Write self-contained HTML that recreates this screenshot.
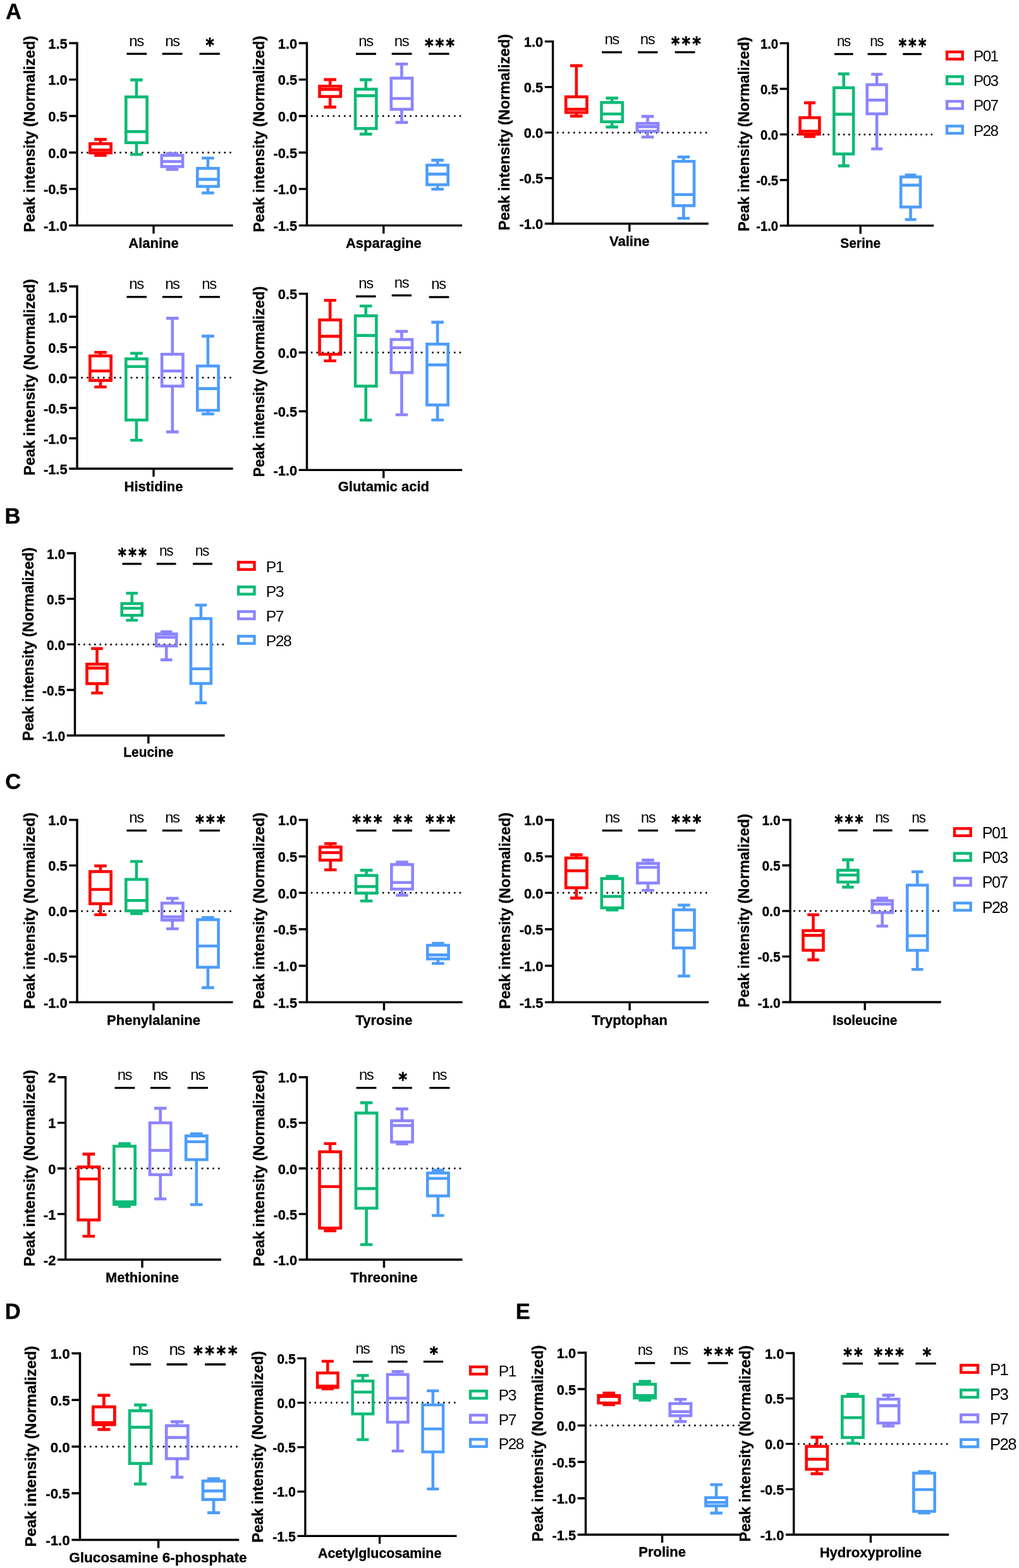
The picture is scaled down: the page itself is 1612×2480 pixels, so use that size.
<!DOCTYPE html>
<html lang="en">
<head>
<meta charset="utf-8">
<title>Amino acid peak intensity box plots</title>
<style>
html,body{margin:0;padding:0;background:#fff;}
body{width:1612px;height:2480px;overflow:hidden;}
svg{display:block;font-family:"Liberation Sans",sans-serif;fill:#000;}
svg text{fill:#000;}
svg text.b{font-weight:bold;stroke:#000;stroke-width:0.35px;stroke-linejoin:round;}
svg text.st{font-family:"DejaVu Sans","Liberation Sans",sans-serif;}
</style>
</head>
<body>
<svg width="1612" height="2480" viewBox="0 0 1612 2480">
<rect x="0" y="0" width="1612" height="2480" fill="#fff" stroke="none"/>
<g>
<line x1="129.6" y1="241.24" x2="367.5" y2="241.24" stroke="#000" stroke-width="3" stroke-linecap="round" stroke-dasharray="0 8.7"/>
<path d="M159 220.4V227.3M159 241.8V245.6M149.2 220.4H168.8M149.2 245.6H168.8M142.35 237.2H175.65" stroke="#FF0000" stroke-width="4.6" fill="none"/>
<rect x="142.35" y="227.3" width="33.3" height="14.5" stroke="#FF0000" stroke-width="4.6" fill="none"/>
<path d="M215.9 126.4V153.3M215.9 225.7V244.2M206.1 126.4H225.7M206.1 244.2H225.7M199.25 208.1H232.55" stroke="#0CBA76" stroke-width="4.6" fill="none"/>
<rect x="199.25" y="153.3" width="33.3" height="72.4" stroke="#0CBA76" stroke-width="4.6" fill="none"/>
<path d="M272.4 242.7V245.7M272.4 263.5V268M262.6 242.7H282.2M262.6 268H282.2M255.75 255.5H289.05" stroke="#8C84FF" stroke-width="4.6" fill="none"/>
<rect x="255.75" y="245.7" width="33.3" height="17.8" stroke="#8C84FF" stroke-width="4.6" fill="none"/>
<path d="M328.9 250V266.3M328.9 294.8V305.1M319.1 250H338.7M319.1 305.1H338.7M312.25 283.6H345.55" stroke="#4D9DFA" stroke-width="4.6" fill="none"/>
<rect x="312.25" y="266.3" width="33.3" height="28.5" stroke="#4D9DFA" stroke-width="4.6" fill="none"/>
<path d="M122 66.5V356.6H368.5" stroke="#000" stroke-width="3.4" fill="none" stroke-linejoin="miter"/>
<path d="M109.2 68.2H122M109.2 125.88H122M109.2 183.56H122M109.2 241.24H122M109.2 298.92H122M109.2 356.6H122M243 356.6V369.4" stroke="#000" stroke-width="3.4" fill="none"/>
<text transform="translate(106.6,76.7) scale(0.98,1)" font-size="22.3" text-anchor="end" class="b">1.5</text>
<text transform="translate(106.6,134.38) scale(0.98,1)" font-size="22.3" text-anchor="end" class="b">1.0</text>
<text transform="translate(106.6,192.06) scale(0.98,1)" font-size="22.3" text-anchor="end" class="b">0.5</text>
<text transform="translate(106.6,249.74) scale(0.98,1)" font-size="22.3" text-anchor="end" class="b">0.0</text>
<text transform="translate(106.6,307.42) scale(0.98,1)" font-size="22.3" text-anchor="end" class="b">-0.5</text>
<text transform="translate(106.6,365.1) scale(0.98,1)" font-size="22.3" text-anchor="end" class="b">-1.0</text>
<text transform="translate(54.8,211.9) rotate(-90)" font-size="23.8" text-anchor="middle" class="b">Peak intensity (Normalized)</text>
<text transform="translate(243,392.2)" font-size="22" text-anchor="middle" class="b">Alanine</text>
<line x1="200.4" y1="85.1" x2="232.2" y2="85.1" stroke="#000" stroke-width="3.3"/>
<text transform="translate(204.35,72.5)" font-size="23.9" text-anchor="start" letter-spacing="-1.45">ns</text>
<line x1="256.6" y1="85.1" x2="288.5" y2="85.1" stroke="#000" stroke-width="3.3"/>
<text transform="translate(261.15,72.5)" font-size="23.9" text-anchor="start" letter-spacing="-1.45">ns</text>
<line x1="315.5" y1="85.1" x2="347.8" y2="85.1" stroke="#000" stroke-width="3.3"/>
<text transform="translate(325.47,81.45) scale(0.95,1)" font-size="27.5" text-anchor="start" class="st" letter-spacing="3.93" stroke="#000" stroke-width="1.5">*</text>
</g>
<g>
<line x1="493.1" y1="183.56" x2="730.1" y2="183.56" stroke="#000" stroke-width="3" stroke-linecap="round" stroke-dasharray="0 8.7"/>
<path d="M522.2 125.9V136.3M522.2 152.6V169.4M512.4 125.9H532M512.4 169.4H532M505.55 141.4H538.85" stroke="#FF0000" stroke-width="4.6" fill="none"/>
<rect x="505.55" y="136.3" width="33.3" height="16.3" stroke="#FF0000" stroke-width="4.6" fill="none"/>
<path d="M578.75 126.1V141.1M578.75 203.3V212.1M568.95 126.1H588.55M568.95 212.1H588.55M562.1 151.4H595.4" stroke="#0CBA76" stroke-width="4.6" fill="none"/>
<rect x="562.1" y="141.1" width="33.3" height="62.2" stroke="#0CBA76" stroke-width="4.6" fill="none"/>
<path d="M635.45 101.3V123.6M635.45 172.9V193.6M625.65 101.3H645.25M625.65 193.6H645.25M618.8 155.8H652.1" stroke="#8C84FF" stroke-width="4.6" fill="none"/>
<rect x="618.8" y="123.6" width="33.3" height="49.3" stroke="#8C84FF" stroke-width="4.6" fill="none"/>
<path d="M692.1 253.4V261.2M692.1 292.2V299.2M682.3 253.4H701.9M682.3 299.2H701.9M675.45 275.4H708.75" stroke="#4D9DFA" stroke-width="4.6" fill="none"/>
<rect x="675.45" y="261.2" width="33.3" height="31" stroke="#4D9DFA" stroke-width="4.6" fill="none"/>
<path d="M485.5 66.5V356.6H731.1" stroke="#000" stroke-width="3.4" fill="none" stroke-linejoin="miter"/>
<path d="M472.7 68.2H485.5M472.7 125.88H485.5M472.7 183.56H485.5M472.7 241.24H485.5M472.7 298.92H485.5M472.7 356.6H485.5M606.8 356.6V369.4" stroke="#000" stroke-width="3.4" fill="none"/>
<text transform="translate(470.1,76.7) scale(0.98,1)" font-size="22.3" text-anchor="end" class="b">1.0</text>
<text transform="translate(470.1,134.38) scale(0.98,1)" font-size="22.3" text-anchor="end" class="b">0.5</text>
<text transform="translate(470.1,192.06) scale(0.98,1)" font-size="22.3" text-anchor="end" class="b">0.0</text>
<text transform="translate(470.1,249.74) scale(0.98,1)" font-size="22.3" text-anchor="end" class="b">-0.5</text>
<text transform="translate(470.1,307.42) scale(0.98,1)" font-size="22.3" text-anchor="end" class="b">-1.0</text>
<text transform="translate(470.1,365.1) scale(0.98,1)" font-size="22.3" text-anchor="end" class="b">-1.5</text>
<text transform="translate(418,211.9) rotate(-90)" font-size="23.8" text-anchor="middle" class="b">Peak intensity (Normalized)</text>
<text transform="translate(606.8,392.2)" font-size="22" text-anchor="middle" class="b">Asparagine</text>
<line x1="563" y1="85.2" x2="595" y2="85.2" stroke="#000" stroke-width="3.3"/>
<text transform="translate(567.35,72.6)" font-size="23.9" text-anchor="start" letter-spacing="-1.45">ns</text>
<line x1="619.7" y1="85.2" x2="651.5" y2="85.2" stroke="#000" stroke-width="3.3"/>
<text transform="translate(623.85,72.6)" font-size="23.9" text-anchor="start" letter-spacing="-1.45">ns</text>
<line x1="678.3" y1="85.2" x2="710.6" y2="85.2" stroke="#000" stroke-width="3.3"/>
<text transform="translate(672.17,81.55) scale(0.95,1)" font-size="27.5" text-anchor="start" class="st" letter-spacing="3.93" stroke="#000" stroke-width="1.5">***</text>
</g>
<g>
<line x1="882.2" y1="209.65" x2="1119.7" y2="209.65" stroke="#000" stroke-width="3" stroke-linecap="round" stroke-dasharray="0 8.7"/>
<path d="M911.8 103.9V153.1M911.8 177.9V183.6M902 103.9H921.6M902 183.6H921.6M895.15 172.7H928.45" stroke="#FF0000" stroke-width="4.6" fill="none"/>
<rect x="895.15" y="153.1" width="33.3" height="24.8" stroke="#FF0000" stroke-width="4.6" fill="none"/>
<path d="M968.1 155.1V162.1M968.1 192.6V200.9M958.3 155.1H977.9M958.3 200.9H977.9M951.45 180.2H984.75" stroke="#0CBA76" stroke-width="4.6" fill="none"/>
<rect x="951.45" y="162.1" width="33.3" height="30.5" stroke="#0CBA76" stroke-width="4.6" fill="none"/>
<path d="M1024.5 184.1V195.2M1024.5 207.6V216.7M1014.7 184.1H1034.3M1014.7 216.7H1034.3M1007.85 200.4H1041.15" stroke="#8C84FF" stroke-width="4.6" fill="none"/>
<rect x="1007.85" y="195.2" width="33.3" height="12.4" stroke="#8C84FF" stroke-width="4.6" fill="none"/>
<path d="M1081.4 248.2V255.2M1081.4 325.3V345.2M1071.6 248.2H1091.2M1071.6 345.2H1091.2M1064.75 307.7H1098.05" stroke="#4D9DFA" stroke-width="4.6" fill="none"/>
<rect x="1064.75" y="255.2" width="33.3" height="70.1" stroke="#4D9DFA" stroke-width="4.6" fill="none"/>
<path d="M874.6 63.9V353.7H1120.7" stroke="#000" stroke-width="3.4" fill="none" stroke-linejoin="miter"/>
<path d="M861.8 65.6H874.6M861.8 137.62H874.6M861.8 209.65H874.6M861.8 281.68H874.6M861.8 353.7H874.6M995.8 353.7V366.5" stroke="#000" stroke-width="3.4" fill="none"/>
<text transform="translate(859.2,74.1) scale(0.98,1)" font-size="22.3" text-anchor="end" class="b">1.0</text>
<text transform="translate(859.2,146.12) scale(0.98,1)" font-size="22.3" text-anchor="end" class="b">0.5</text>
<text transform="translate(859.2,218.15) scale(0.98,1)" font-size="22.3" text-anchor="end" class="b">0.0</text>
<text transform="translate(859.2,290.18) scale(0.98,1)" font-size="22.3" text-anchor="end" class="b">-0.5</text>
<text transform="translate(859.2,362.2) scale(0.98,1)" font-size="22.3" text-anchor="end" class="b">-1.0</text>
<text transform="translate(805.8,209.15) rotate(-90)" font-size="23.8" text-anchor="middle" class="b">Peak intensity (Normalized)</text>
<text transform="translate(995.8,389)" font-size="22" text-anchor="middle" class="b">Valine</text>
<line x1="952.1" y1="82.7" x2="983.9" y2="82.7" stroke="#000" stroke-width="3.3"/>
<text transform="translate(956.45,70.1)" font-size="23.9" text-anchor="start" letter-spacing="-1.45">ns</text>
<line x1="1009" y1="82.7" x2="1040.5" y2="82.7" stroke="#000" stroke-width="3.3"/>
<text transform="translate(1012.85,70.1)" font-size="23.9" text-anchor="start" letter-spacing="-1.45">ns</text>
<line x1="1067.7" y1="82.7" x2="1099.5" y2="82.7" stroke="#000" stroke-width="3.3"/>
<text transform="translate(1061.97,79.05) scale(0.95,1)" font-size="27.5" text-anchor="start" class="st" letter-spacing="3.93" stroke="#000" stroke-width="1.5">***</text>
</g>
<g>
<line x1="1253.7" y1="212.65" x2="1476.1" y2="212.65" stroke="#000" stroke-width="3" stroke-linecap="round" stroke-dasharray="0 8.15"/>
<path d="M1281 162.6V186.1M1281 212.1V216M1272 162.6H1290M1272 216H1290M1265.6 207.5H1296.4" stroke="#FF0000" stroke-width="4.6" fill="none"/>
<rect x="1265.6" y="186.1" width="30.8" height="26" stroke="#FF0000" stroke-width="4.6" fill="none"/>
<path d="M1334.7 116.9V138.8M1334.7 243.5V262.4M1325.7 116.9H1343.7M1325.7 262.4H1343.7M1319.3 180.6H1350.1" stroke="#0CBA76" stroke-width="4.6" fill="none"/>
<rect x="1319.3" y="138.8" width="30.8" height="104.7" stroke="#0CBA76" stroke-width="4.6" fill="none"/>
<path d="M1387.1 117.5V133.9M1387.1 180V235.5M1378.1 117.5H1396.1M1378.1 235.5H1396.1M1371.7 158.4H1402.5" stroke="#8C84FF" stroke-width="4.6" fill="none"/>
<rect x="1371.7" y="133.9" width="30.8" height="46.1" stroke="#8C84FF" stroke-width="4.6" fill="none"/>
<path d="M1440.5 276.7V279.8M1440.5 327.4V347.2M1431.5 276.7H1449.5M1431.5 347.2H1449.5M1425.1 292.9H1455.9" stroke="#4D9DFA" stroke-width="4.6" fill="none"/>
<rect x="1425.1" y="279.8" width="30.8" height="47.6" stroke="#4D9DFA" stroke-width="4.6" fill="none"/>
<path d="M1246.5 66.7V356.9H1477.1" stroke="#000" stroke-width="3.4" fill="none" stroke-linejoin="miter"/>
<path d="M1233.7 68.4H1246.5M1233.7 140.53H1246.5M1233.7 212.65H1246.5M1233.7 284.77H1246.5M1233.7 356.9H1246.5M1361.2 356.9V369.7" stroke="#000" stroke-width="3.4" fill="none"/>
<text transform="translate(1231.1,76.9) scale(0.91,1)" font-size="22.3" text-anchor="end" class="b">1.0</text>
<text transform="translate(1231.1,149.03) scale(0.91,1)" font-size="22.3" text-anchor="end" class="b">0.5</text>
<text transform="translate(1231.1,221.15) scale(0.91,1)" font-size="22.3" text-anchor="end" class="b">0.0</text>
<text transform="translate(1231.1,293.27) scale(0.91,1)" font-size="22.3" text-anchor="end" class="b">-0.5</text>
<text transform="translate(1231.1,365.4) scale(0.91,1)" font-size="22.3" text-anchor="end" class="b">-1.0</text>
<text transform="translate(1184.9,212.15) rotate(-90)" font-size="23.56" text-anchor="middle" class="b">Peak intensity (Normalized)</text>
<text transform="translate(1361.2,392.2) scale(0.95,1)" font-size="22" text-anchor="middle" class="b">Serine</text>
<line x1="1320" y1="85.5" x2="1349.6" y2="85.5" stroke="#000" stroke-width="3.3"/>
<text transform="translate(1323.9,72.9) scale(0.93,1)" font-size="23.9" text-anchor="start" letter-spacing="-1.45">ns</text>
<line x1="1372.5" y1="85.5" x2="1402.4" y2="85.5" stroke="#000" stroke-width="3.3"/>
<text transform="translate(1376.3,72.9) scale(0.93,1)" font-size="23.9" text-anchor="start" letter-spacing="-1.45">ns</text>
<line x1="1428.3" y1="85.5" x2="1457.9" y2="85.5" stroke="#000" stroke-width="3.3"/>
<text transform="translate(1421.8,81.85) scale(0.88,1)" font-size="27.5" text-anchor="start" class="st" letter-spacing="3.93" stroke="#000" stroke-width="1.5">***</text>
</g>
<g>
<line x1="129.6" y1="597.15" x2="367.5" y2="597.15" stroke="#000" stroke-width="3" stroke-linecap="round" stroke-dasharray="0 8.7"/>
<path d="M159 557.2V562.9M159 601.7V612M149.2 557.2H168.8M149.2 612H168.8M142.35 586.7H175.65" stroke="#FF0000" stroke-width="4.6" fill="none"/>
<rect x="142.35" y="562.9" width="33.3" height="38.8" stroke="#FF0000" stroke-width="4.6" fill="none"/>
<path d="M215.9 558.8V567.6M215.9 664.3V696.3M206.1 558.8H225.7M206.1 696.3H225.7M199.25 579.7H232.55" stroke="#0CBA76" stroke-width="4.6" fill="none"/>
<rect x="199.25" y="567.6" width="33.3" height="96.7" stroke="#0CBA76" stroke-width="4.6" fill="none"/>
<path d="M272.8 503.4V560.3M272.8 610.7V683.1M263 503.4H282.6M263 683.1H282.6M256.15 586.7H289.45" stroke="#8C84FF" stroke-width="4.6" fill="none"/>
<rect x="256.15" y="560.3" width="33.3" height="50.4" stroke="#8C84FF" stroke-width="4.6" fill="none"/>
<path d="M328.9 531.6V578.9M328.9 649V654.7M319.1 531.6H338.7M319.1 654.7H338.7M312.25 614.6H345.55" stroke="#4D9DFA" stroke-width="4.6" fill="none"/>
<rect x="312.25" y="578.9" width="33.3" height="70.1" stroke="#4D9DFA" stroke-width="4.6" fill="none"/>
<path d="M122 451.3V741.3H368.5" stroke="#000" stroke-width="3.4" fill="none" stroke-linejoin="miter"/>
<path d="M109.2 453H122M109.2 501.05H122M109.2 549.1H122M109.2 597.15H122M109.2 645.2H122M109.2 693.25H122M109.2 741.3H122M243 741.3V754.1" stroke="#000" stroke-width="3.4" fill="none"/>
<text transform="translate(106.6,461.5) scale(0.98,1)" font-size="22.3" text-anchor="end" class="b">1.5</text>
<text transform="translate(106.6,509.55) scale(0.98,1)" font-size="22.3" text-anchor="end" class="b">1.0</text>
<text transform="translate(106.6,557.6) scale(0.98,1)" font-size="22.3" text-anchor="end" class="b">0.5</text>
<text transform="translate(106.6,605.65) scale(0.98,1)" font-size="22.3" text-anchor="end" class="b">0.0</text>
<text transform="translate(106.6,653.7) scale(0.98,1)" font-size="22.3" text-anchor="end" class="b">-0.5</text>
<text transform="translate(106.6,701.75) scale(0.98,1)" font-size="22.3" text-anchor="end" class="b">-1.0</text>
<text transform="translate(106.6,749.8) scale(0.98,1)" font-size="22.3" text-anchor="end" class="b">-1.5</text>
<text transform="translate(54.8,596.65) rotate(-90)" font-size="23.8" text-anchor="middle" class="b">Peak intensity (Normalized)</text>
<text transform="translate(243,776.7)" font-size="22" text-anchor="middle" class="b">Histidine</text>
<line x1="200.4" y1="469.6" x2="232" y2="469.6" stroke="#000" stroke-width="3.3"/>
<text transform="translate(204.35,457)" font-size="23.9" text-anchor="start" letter-spacing="-1.45">ns</text>
<line x1="256.8" y1="469.6" x2="288.3" y2="469.6" stroke="#000" stroke-width="3.3"/>
<text transform="translate(261.15,457)" font-size="23.9" text-anchor="start" letter-spacing="-1.45">ns</text>
<line x1="315.5" y1="469.6" x2="347.8" y2="469.6" stroke="#000" stroke-width="3.3"/>
<text transform="translate(319.35,457)" font-size="23.9" text-anchor="start" letter-spacing="-1.45">ns</text>
</g>
<g>
<line x1="493.1" y1="557.53" x2="730.1" y2="557.53" stroke="#000" stroke-width="3" stroke-linecap="round" stroke-dasharray="0 8.7"/>
<path d="M522.2 475V506M522.2 560.3V570.7M512.4 475H532M512.4 570.7H532M505.55 531.9H538.85" stroke="#FF0000" stroke-width="4.6" fill="none"/>
<rect x="505.55" y="506" width="33.3" height="54.3" stroke="#FF0000" stroke-width="4.6" fill="none"/>
<path d="M578.75 484V499.5M578.75 610.7V664.5M568.95 484H588.55M568.95 664.5H588.55M562.1 530.6H595.4" stroke="#0CBA76" stroke-width="4.6" fill="none"/>
<rect x="562.1" y="499.5" width="33.3" height="111.2" stroke="#0CBA76" stroke-width="4.6" fill="none"/>
<path d="M635.45 524.1V537M635.45 589.3V656M625.65 524.1H645.25M625.65 656H645.25M618.8 550H652.1" stroke="#8C84FF" stroke-width="4.6" fill="none"/>
<rect x="618.8" y="537" width="33.3" height="52.3" stroke="#8C84FF" stroke-width="4.6" fill="none"/>
<path d="M692.1 509.6V544.3M692.1 640.5V664.3M682.3 509.6H701.9M682.3 664.3H701.9M675.45 577.1H708.75" stroke="#4D9DFA" stroke-width="4.6" fill="none"/>
<rect x="675.45" y="544.3" width="33.3" height="96.2" stroke="#4D9DFA" stroke-width="4.6" fill="none"/>
<path d="M485.5 462.9V743.4H731.1" stroke="#000" stroke-width="3.4" fill="none" stroke-linejoin="miter"/>
<path d="M472.7 464.6H485.5M472.7 557.53H485.5M472.7 650.47H485.5M472.7 743.4H485.5M606.8 743.4V756.2" stroke="#000" stroke-width="3.4" fill="none"/>
<text transform="translate(470.1,473.1) scale(0.98,1)" font-size="22.3" text-anchor="end" class="b">0.5</text>
<text transform="translate(470.1,566.03) scale(0.98,1)" font-size="22.3" text-anchor="end" class="b">0.0</text>
<text transform="translate(470.1,658.97) scale(0.98,1)" font-size="22.3" text-anchor="end" class="b">-0.5</text>
<text transform="translate(470.1,751.9) scale(0.98,1)" font-size="22.3" text-anchor="end" class="b">-1.0</text>
<text transform="translate(418,603.6) rotate(-90)" font-size="23.09" text-anchor="middle" class="b">Peak intensity (Normalized)</text>
<text transform="translate(606.8,777.2)" font-size="22" text-anchor="middle" class="b">Glutamic acid</text>
<line x1="563" y1="468.8" x2="594.6" y2="468.8" stroke="#000" stroke-width="3.3"/>
<text transform="translate(567.35,456.2)" font-size="23.9" text-anchor="start" letter-spacing="-1.45">ns</text>
<line x1="619.7" y1="467.2" x2="651" y2="467.2" stroke="#000" stroke-width="3.3"/>
<text transform="translate(623.85,454.6)" font-size="23.9" text-anchor="start" letter-spacing="-1.45">ns</text>
<line x1="678.6" y1="469.8" x2="710.4" y2="469.8" stroke="#000" stroke-width="3.3"/>
<text transform="translate(682.35,457.2)" font-size="23.9" text-anchor="start" letter-spacing="-1.45">ns</text>
</g>
<g>
<line x1="125" y1="1019.15" x2="354.5" y2="1019.15" stroke="#000" stroke-width="3" stroke-linecap="round" stroke-dasharray="0 8.44"/>
<path d="M153.5 1025.7V1050.5M153.5 1081.3V1096M144.2 1025.7H162.8M144.2 1096H162.8M137.5 1056.6H169.5" stroke="#FF0000" stroke-width="4.6" fill="none"/>
<rect x="137.5" y="1050.5" width="32" height="30.8" stroke="#FF0000" stroke-width="4.6" fill="none"/>
<path d="M208.7 938.3V954.6M208.7 973.2V981M199.4 938.3H218M199.4 981H218M192.7 962H224.7" stroke="#0CBA76" stroke-width="4.6" fill="none"/>
<rect x="192.7" y="954.6" width="32" height="18.6" stroke="#0CBA76" stroke-width="4.6" fill="none"/>
<path d="M263.2 999.2V1002.7M263.2 1021.6V1043.6M253.9 999.2H272.5M253.9 1043.6H272.5M247.2 1007.9H279.2" stroke="#8C84FF" stroke-width="4.6" fill="none"/>
<rect x="247.2" y="1002.7" width="32" height="18.9" stroke="#8C84FF" stroke-width="4.6" fill="none"/>
<path d="M317.9 957V978.4M317.9 1081V1111.6M308.6 957H327.2M308.6 1111.6H327.2M301.9 1057.8H333.9" stroke="#4D9DFA" stroke-width="4.6" fill="none"/>
<rect x="301.9" y="978.4" width="32" height="102.6" stroke="#4D9DFA" stroke-width="4.6" fill="none"/>
<path d="M118.5 873.3V1163.3H355.5" stroke="#000" stroke-width="3.4" fill="none" stroke-linejoin="miter"/>
<path d="M105.7 875H118.5M105.7 947.08H118.5M105.7 1019.15H118.5M105.7 1091.22H118.5M105.7 1163.3H118.5M234.8 1163.3V1176.1" stroke="#000" stroke-width="3.4" fill="none"/>
<text transform="translate(103.1,883.5) scale(0.94,1)" font-size="22.3" text-anchor="end" class="b">1.0</text>
<text transform="translate(103.1,955.58) scale(0.94,1)" font-size="22.3" text-anchor="end" class="b">0.5</text>
<text transform="translate(103.1,1027.65) scale(0.94,1)" font-size="22.3" text-anchor="end" class="b">0.0</text>
<text transform="translate(103.1,1099.72) scale(0.94,1)" font-size="22.3" text-anchor="end" class="b">-0.5</text>
<text transform="translate(103.1,1171.8) scale(0.94,1)" font-size="22.3" text-anchor="end" class="b">-1.0</text>
<text transform="translate(52.6,1018.65) rotate(-90)" font-size="23.44" text-anchor="middle" class="b">Peak intensity (Normalized)</text>
<text transform="translate(234.8,1197.4) scale(0.95,1)" font-size="22" text-anchor="middle" class="b">Leucine</text>
<line x1="193.4" y1="891.8" x2="223.9" y2="891.8" stroke="#000" stroke-width="3.3"/>
<text transform="translate(187.12,888.15) scale(0.91,1)" font-size="27.5" text-anchor="start" class="st" letter-spacing="3.93" stroke="#000" stroke-width="1.5">***</text>
<line x1="247.7" y1="891.8" x2="278.5" y2="891.8" stroke="#000" stroke-width="3.3"/>
<text transform="translate(252.1,879.2) scale(0.95,1)" font-size="23.9" text-anchor="start" letter-spacing="-1.45">ns</text>
<line x1="305.1" y1="891.8" x2="335.9" y2="891.8" stroke="#000" stroke-width="3.3"/>
<text transform="translate(308.7,879.2) scale(0.95,1)" font-size="23.9" text-anchor="start" letter-spacing="-1.45">ns</text>
</g>
<g>
<line x1="129.6" y1="1440.95" x2="367.5" y2="1440.95" stroke="#000" stroke-width="3" stroke-linecap="round" stroke-dasharray="0 8.7"/>
<path d="M159 1369.5V1378.5M159 1429.4V1446.8M149.2 1369.5H168.8M149.2 1446.8H168.8M142.35 1406.7H175.65" stroke="#FF0000" stroke-width="4.6" fill="none"/>
<rect x="142.35" y="1378.5" width="33.3" height="50.9" stroke="#FF0000" stroke-width="4.6" fill="none"/>
<path d="M215.9 1362.5V1390.9M215.9 1440.6V1445M206.1 1362.5H225.7M206.1 1445H225.7M199.25 1424.3H232.55" stroke="#0CBA76" stroke-width="4.6" fill="none"/>
<rect x="199.25" y="1390.9" width="33.3" height="49.7" stroke="#0CBA76" stroke-width="4.6" fill="none"/>
<path d="M272.8 1420.9V1428.4M272.8 1455.3V1469M263 1420.9H282.6M263 1469H282.6M256.15 1450.1H289.45" stroke="#8C84FF" stroke-width="4.6" fill="none"/>
<rect x="256.15" y="1428.4" width="33.3" height="26.9" stroke="#8C84FF" stroke-width="4.6" fill="none"/>
<path d="M328.9 1451.4V1454.5M328.9 1529.8V1562.1M319.1 1451.4H338.7M319.1 1562.1H338.7M312.25 1496.2H345.55" stroke="#4D9DFA" stroke-width="4.6" fill="none"/>
<rect x="312.25" y="1454.5" width="33.3" height="75.3" stroke="#4D9DFA" stroke-width="4.6" fill="none"/>
<path d="M122 1295.1V1585.1H368.5" stroke="#000" stroke-width="3.4" fill="none" stroke-linejoin="miter"/>
<path d="M109.2 1296.8H122M109.2 1368.88H122M109.2 1440.95H122M109.2 1513.02H122M109.2 1585.1H122M243 1585.1V1597.9" stroke="#000" stroke-width="3.4" fill="none"/>
<text transform="translate(106.6,1305.3) scale(0.98,1)" font-size="22.3" text-anchor="end" class="b">1.0</text>
<text transform="translate(106.6,1377.38) scale(0.98,1)" font-size="22.3" text-anchor="end" class="b">0.5</text>
<text transform="translate(106.6,1449.45) scale(0.98,1)" font-size="22.3" text-anchor="end" class="b">0.0</text>
<text transform="translate(106.6,1521.52) scale(0.98,1)" font-size="22.3" text-anchor="end" class="b">-0.5</text>
<text transform="translate(106.6,1593.6) scale(0.98,1)" font-size="22.3" text-anchor="end" class="b">-1.0</text>
<text transform="translate(54.8,1440.45) rotate(-90)" font-size="23.8" text-anchor="middle" class="b">Peak intensity (Normalized)</text>
<text transform="translate(243,1620.6)" font-size="22" text-anchor="middle" class="b">Phenylalanine</text>
<line x1="200.4" y1="1313.6" x2="232" y2="1313.6" stroke="#000" stroke-width="3.3"/>
<text transform="translate(204.35,1301)" font-size="23.9" text-anchor="start" letter-spacing="-1.45">ns</text>
<line x1="256.8" y1="1313.6" x2="288.3" y2="1313.6" stroke="#000" stroke-width="3.3"/>
<text transform="translate(261.15,1301)" font-size="23.9" text-anchor="start" letter-spacing="-1.45">ns</text>
<line x1="315.5" y1="1313.6" x2="347.8" y2="1313.6" stroke="#000" stroke-width="3.3"/>
<text transform="translate(309.47,1309.95) scale(0.95,1)" font-size="27.5" text-anchor="start" class="st" letter-spacing="3.93" stroke="#000" stroke-width="1.5">***</text>
</g>
<g>
<line x1="493.1" y1="1412.12" x2="730.6" y2="1412.12" stroke="#000" stroke-width="3" stroke-linecap="round" stroke-dasharray="0 8.7"/>
<path d="M522.8 1334.3V1339.7M522.8 1360.4V1375.7M513 1334.3H532.6M513 1375.7H532.6M506.15 1348.5H539.45" stroke="#FF0000" stroke-width="4.6" fill="none"/>
<rect x="506.15" y="1339.7" width="33.3" height="20.7" stroke="#FF0000" stroke-width="4.6" fill="none"/>
<path d="M579.6 1376.4V1384.7M579.6 1412.6V1425M569.8 1376.4H589.4M569.8 1425H589.4M562.95 1402.3H596.25" stroke="#0CBA76" stroke-width="4.6" fill="none"/>
<rect x="562.95" y="1384.7" width="33.3" height="27.9" stroke="#0CBA76" stroke-width="4.6" fill="none"/>
<path d="M636 1363.5V1367.4M636 1406.2V1416M626.2 1363.5H645.8M626.2 1416H645.8M619.35 1395.8H652.65" stroke="#8C84FF" stroke-width="4.6" fill="none"/>
<rect x="619.35" y="1367.4" width="33.3" height="38.8" stroke="#8C84FF" stroke-width="4.6" fill="none"/>
<path d="M692.9 1492V1495.1M692.9 1516.6V1523.8M683.1 1492H702.7M683.1 1523.8H702.7M676.25 1510.4H709.55" stroke="#4D9DFA" stroke-width="4.6" fill="none"/>
<rect x="676.25" y="1495.1" width="33.3" height="21.5" stroke="#4D9DFA" stroke-width="4.6" fill="none"/>
<path d="M485.5 1295.1V1585.1H731.6" stroke="#000" stroke-width="3.4" fill="none" stroke-linejoin="miter"/>
<path d="M472.7 1296.8H485.5M472.7 1354.46H485.5M472.7 1412.12H485.5M472.7 1469.78H485.5M472.7 1527.44H485.5M472.7 1585.1H485.5M607.5 1585.1V1597.9" stroke="#000" stroke-width="3.4" fill="none"/>
<text transform="translate(470.1,1305.3) scale(0.98,1)" font-size="22.3" text-anchor="end" class="b">1.0</text>
<text transform="translate(470.1,1362.96) scale(0.98,1)" font-size="22.3" text-anchor="end" class="b">0.5</text>
<text transform="translate(470.1,1420.62) scale(0.98,1)" font-size="22.3" text-anchor="end" class="b">0.0</text>
<text transform="translate(470.1,1478.28) scale(0.98,1)" font-size="22.3" text-anchor="end" class="b">-0.5</text>
<text transform="translate(470.1,1535.94) scale(0.98,1)" font-size="22.3" text-anchor="end" class="b">-1.0</text>
<text transform="translate(470.1,1593.6) scale(0.98,1)" font-size="22.3" text-anchor="end" class="b">-1.5</text>
<text transform="translate(418,1440.45) rotate(-90)" font-size="23.8" text-anchor="middle" class="b">Peak intensity (Normalized)</text>
<text transform="translate(607.5,1620.6)" font-size="22" text-anchor="middle" class="b">Tyrosine</text>
<line x1="563.6" y1="1313.6" x2="595.4" y2="1313.6" stroke="#000" stroke-width="3.3"/>
<text transform="translate(557.57,1309.95) scale(0.95,1)" font-size="27.5" text-anchor="start" class="st" letter-spacing="3.93" stroke="#000" stroke-width="1.5">***</text>
<line x1="620.5" y1="1313.6" x2="652" y2="1313.6" stroke="#000" stroke-width="3.3"/>
<text transform="translate(622.37,1309.95) scale(0.95,1)" font-size="27.5" text-anchor="start" class="st" letter-spacing="3.93" stroke="#000" stroke-width="1.5">**</text>
<line x1="679.4" y1="1313.6" x2="711.5" y2="1313.6" stroke="#000" stroke-width="3.3"/>
<text transform="translate(673.37,1309.95) scale(0.95,1)" font-size="27.5" text-anchor="start" class="st" letter-spacing="3.93" stroke="#000" stroke-width="1.5">***</text>
</g>
<g>
<line x1="882.4" y1="1412.12" x2="1120.2" y2="1412.12" stroke="#000" stroke-width="3" stroke-linecap="round" stroke-dasharray="0 8.7"/>
<path d="M911.8 1351.9V1357M911.8 1404.1V1420.4M902 1351.9H921.6M902 1420.4H921.6M895.15 1377.2H928.45" stroke="#FF0000" stroke-width="4.6" fill="none"/>
<rect x="895.15" y="1357" width="33.3" height="47.1" stroke="#FF0000" stroke-width="4.6" fill="none"/>
<path d="M968.4 1386V1389.6M968.4 1435.9V1439.3M958.6 1386H978.2M958.6 1439.3H978.2M951.75 1417.8H985.05" stroke="#0CBA76" stroke-width="4.6" fill="none"/>
<rect x="951.75" y="1389.6" width="33.3" height="46.3" stroke="#0CBA76" stroke-width="4.6" fill="none"/>
<path d="M1025 1360.4V1365.6M1025 1396.6V1408.2M1015.2 1360.4H1034.8M1015.2 1408.2H1034.8M1008.35 1371.8H1041.65" stroke="#8C84FF" stroke-width="4.6" fill="none"/>
<rect x="1008.35" y="1365.6" width="33.3" height="31" stroke="#8C84FF" stroke-width="4.6" fill="none"/>
<path d="M1081.9 1431.5V1439M1081.9 1499.3V1543.7M1072.1 1431.5H1091.7M1072.1 1543.7H1091.7M1065.25 1471.3H1098.55" stroke="#4D9DFA" stroke-width="4.6" fill="none"/>
<rect x="1065.25" y="1439" width="33.3" height="60.3" stroke="#4D9DFA" stroke-width="4.6" fill="none"/>
<path d="M874.8 1295.1V1585.1H1121.2" stroke="#000" stroke-width="3.4" fill="none" stroke-linejoin="miter"/>
<path d="M862 1296.8H874.8M862 1354.46H874.8M862 1412.12H874.8M862 1469.78H874.8M862 1527.44H874.8M862 1585.1H874.8M996.1 1585.1V1597.9" stroke="#000" stroke-width="3.4" fill="none"/>
<text transform="translate(859.4,1305.3) scale(0.98,1)" font-size="22.3" text-anchor="end" class="b">1.0</text>
<text transform="translate(859.4,1362.96) scale(0.98,1)" font-size="22.3" text-anchor="end" class="b">0.5</text>
<text transform="translate(859.4,1420.62) scale(0.98,1)" font-size="22.3" text-anchor="end" class="b">0.0</text>
<text transform="translate(859.4,1478.28) scale(0.98,1)" font-size="22.3" text-anchor="end" class="b">-0.5</text>
<text transform="translate(859.4,1535.94) scale(0.98,1)" font-size="22.3" text-anchor="end" class="b">-1.0</text>
<text transform="translate(859.4,1593.6) scale(0.98,1)" font-size="22.3" text-anchor="end" class="b">-1.5</text>
<text transform="translate(807.1,1440.45) rotate(-90)" font-size="23.8" text-anchor="middle" class="b">Peak intensity (Normalized)</text>
<text transform="translate(996.1,1620.6)" font-size="22" text-anchor="middle" class="b">Tryptophan</text>
<line x1="952.6" y1="1313.6" x2="984.4" y2="1313.6" stroke="#000" stroke-width="3.3"/>
<text transform="translate(957.05,1301)" font-size="23.9" text-anchor="start" letter-spacing="-1.45">ns</text>
<line x1="1009.5" y1="1313.6" x2="1041" y2="1313.6" stroke="#000" stroke-width="3.3"/>
<text transform="translate(1013.85,1301)" font-size="23.9" text-anchor="start" letter-spacing="-1.45">ns</text>
<line x1="1068.2" y1="1313.6" x2="1100" y2="1313.6" stroke="#000" stroke-width="3.3"/>
<text transform="translate(1062.47,1309.95) scale(0.95,1)" font-size="27.5" text-anchor="start" class="st" letter-spacing="3.93" stroke="#000" stroke-width="1.5">***</text>
</g>
<g>
<line x1="1256.6" y1="1440.85" x2="1487.7" y2="1440.85" stroke="#000" stroke-width="3" stroke-linecap="round" stroke-dasharray="0 8.44"/>
<path d="M1286.5 1446.7V1471.9M1286.5 1503V1518.1M1277.2 1446.7H1295.8M1277.2 1518.1H1295.8M1270.5 1479.4H1302.5" stroke="#FF0000" stroke-width="4.6" fill="none"/>
<rect x="1270.5" y="1471.9" width="32" height="31.1" stroke="#FF0000" stroke-width="4.6" fill="none"/>
<path d="M1341.4 1359.9V1376.4M1341.4 1395.1V1403.1M1332.1 1359.9H1350.7M1332.1 1403.1H1350.7M1325.4 1384H1357.4" stroke="#0CBA76" stroke-width="4.6" fill="none"/>
<rect x="1325.4" y="1376.4" width="32" height="18.7" stroke="#0CBA76" stroke-width="4.6" fill="none"/>
<path d="M1395.7 1420.6V1424.5M1395.7 1443.3V1464.7M1386.4 1420.6H1405M1386.4 1464.7H1405M1379.7 1430H1411.7" stroke="#8C84FF" stroke-width="4.6" fill="none"/>
<rect x="1379.7" y="1424.5" width="32" height="18.8" stroke="#8C84FF" stroke-width="4.6" fill="none"/>
<path d="M1451.2 1378.7V1400M1451.2 1503.1V1533.3M1441.9 1378.7H1460.5M1441.9 1533.3H1460.5M1435.2 1480H1467.2" stroke="#4D9DFA" stroke-width="4.6" fill="none"/>
<rect x="1435.2" y="1400" width="32" height="103.1" stroke="#4D9DFA" stroke-width="4.6" fill="none"/>
<path d="M1250.1 1295V1585H1488.7" stroke="#000" stroke-width="3.4" fill="none" stroke-linejoin="miter"/>
<path d="M1237.3 1296.7H1250.1M1237.3 1368.78H1250.1M1237.3 1440.85H1250.1M1237.3 1512.92H1250.1M1237.3 1585H1250.1M1368.2 1585V1597.8" stroke="#000" stroke-width="3.4" fill="none"/>
<text transform="translate(1234.7,1305.2) scale(0.94,1)" font-size="22.3" text-anchor="end" class="b">1.0</text>
<text transform="translate(1234.7,1377.28) scale(0.94,1)" font-size="22.3" text-anchor="end" class="b">0.5</text>
<text transform="translate(1234.7,1449.35) scale(0.94,1)" font-size="22.3" text-anchor="end" class="b">0.0</text>
<text transform="translate(1234.7,1521.42) scale(0.94,1)" font-size="22.3" text-anchor="end" class="b">-0.5</text>
<text transform="translate(1234.7,1593.5) scale(0.94,1)" font-size="22.3" text-anchor="end" class="b">-1.0</text>
<text transform="translate(1184.5,1440.35) rotate(-90)" font-size="23.44" text-anchor="middle" class="b">Peak intensity (Normalized)</text>
<text transform="translate(1368.2,1620.6) scale(0.95,1)" font-size="22" text-anchor="middle" class="b">Isoleucine</text>
<line x1="1326.1" y1="1313.4" x2="1356.6" y2="1313.4" stroke="#000" stroke-width="3.3"/>
<text transform="translate(1320.62,1309.75) scale(0.91,1)" font-size="27.5" text-anchor="start" class="st" letter-spacing="3.93" stroke="#000" stroke-width="1.5">***</text>
<line x1="1381" y1="1313.4" x2="1411.6" y2="1313.4" stroke="#000" stroke-width="3.3"/>
<text transform="translate(1384.6,1300.8) scale(0.95,1)" font-size="23.9" text-anchor="start" letter-spacing="-1.45">ns</text>
<line x1="1438.1" y1="1313.4" x2="1468.6" y2="1313.4" stroke="#000" stroke-width="3.3"/>
<text transform="translate(1442.2,1300.8) scale(0.95,1)" font-size="23.9" text-anchor="start" letter-spacing="-1.45">ns</text>
</g>
<g>
<line x1="111.3" y1="1848.05" x2="348.8" y2="1848.05" stroke="#000" stroke-width="3" stroke-linecap="round" stroke-dasharray="0 8.7"/>
<path d="M140.4 1825.4V1845.7M140.4 1929.5V1955.2M130.6 1825.4H150.2M130.6 1955.2H150.2M123.75 1864.8H157.05" stroke="#FF0000" stroke-width="4.6" fill="none"/>
<rect x="123.75" y="1845.7" width="33.3" height="83.8" stroke="#FF0000" stroke-width="4.6" fill="none"/>
<path d="M197 1808.8V1812.9M197 1904.9V1908.3M187.2 1808.8H206.8M187.2 1908.3H206.8M180.35 1900.9H213.65" stroke="#0CBA76" stroke-width="4.6" fill="none"/>
<rect x="180.35" y="1812.9" width="33.3" height="92" stroke="#0CBA76" stroke-width="4.6" fill="none"/>
<path d="M253.7 1752.9V1775.9M253.7 1857.9V1896.2M243.9 1752.9H263.5M243.9 1896.2H263.5M237.05 1819.5H270.35" stroke="#8C84FF" stroke-width="4.6" fill="none"/>
<rect x="237.05" y="1775.9" width="33.3" height="82" stroke="#8C84FF" stroke-width="4.6" fill="none"/>
<path d="M310.8 1793.2V1796.6M310.8 1834.1V1905.2M301 1793.2H320.6M301 1905.2H320.6M294.15 1805.7H327.45" stroke="#4D9DFA" stroke-width="4.6" fill="none"/>
<rect x="294.15" y="1796.6" width="33.3" height="37.5" stroke="#4D9DFA" stroke-width="4.6" fill="none"/>
<path d="M103.7 1702.1V1992.3H349.8" stroke="#000" stroke-width="3.4" fill="none" stroke-linejoin="miter"/>
<path d="M90.9 1703.8H103.7M90.9 1775.92H103.7M90.9 1848.05H103.7M90.9 1920.17H103.7M90.9 1992.3H103.7M225 1992.3V2005.1" stroke="#000" stroke-width="3.4" fill="none"/>
<text transform="translate(88.3,1712.3) scale(0.98,1)" font-size="22.3" text-anchor="end" class="b">2</text>
<text transform="translate(88.3,1784.42) scale(0.98,1)" font-size="22.3" text-anchor="end" class="b">1</text>
<text transform="translate(88.3,1856.55) scale(0.98,1)" font-size="22.3" text-anchor="end" class="b">0</text>
<text transform="translate(88.3,1928.67) scale(0.98,1)" font-size="22.3" text-anchor="end" class="b">-1</text>
<text transform="translate(88.3,2000.8) scale(0.98,1)" font-size="22.3" text-anchor="end" class="b">-2</text>
<text transform="translate(54.8,1847.55) rotate(-90)" font-size="23.8" text-anchor="middle" class="b">Peak intensity (Normalized)</text>
<text transform="translate(225,2027.6)" font-size="22" text-anchor="middle" class="b">Methionine</text>
<line x1="181.5" y1="1720.6" x2="213.3" y2="1720.6" stroke="#000" stroke-width="3.3"/>
<text transform="translate(185.65,1708)" font-size="23.9" text-anchor="start" letter-spacing="-1.45">ns</text>
<line x1="237.9" y1="1720.6" x2="269.7" y2="1720.6" stroke="#000" stroke-width="3.3"/>
<text transform="translate(242.25,1708)" font-size="23.9" text-anchor="start" letter-spacing="-1.45">ns</text>
<line x1="296.8" y1="1720.6" x2="328.9" y2="1720.6" stroke="#000" stroke-width="3.3"/>
<text transform="translate(301.25,1708)" font-size="23.9" text-anchor="start" letter-spacing="-1.45">ns</text>
</g>
<g>
<line x1="493.1" y1="1848.05" x2="730.6" y2="1848.05" stroke="#000" stroke-width="3" stroke-linecap="round" stroke-dasharray="0 8.7"/>
<path d="M522.2 1808.8V1821.7M522.2 1942.4V1946.8M512.4 1808.8H532M512.4 1946.8H532M505.55 1876.8H538.85" stroke="#FF0000" stroke-width="4.6" fill="none"/>
<rect x="505.55" y="1821.7" width="33.3" height="120.7" stroke="#FF0000" stroke-width="4.6" fill="none"/>
<path d="M579.6 1744.1V1760.4M579.6 1910.9V1968.5M569.8 1744.1H589.4M569.8 1968.5H589.4M562.95 1879.9H596.25" stroke="#0CBA76" stroke-width="4.6" fill="none"/>
<rect x="562.95" y="1760.4" width="33.3" height="150.5" stroke="#0CBA76" stroke-width="4.6" fill="none"/>
<path d="M636 1753.9V1772.6M636 1806.2V1809.3M626.2 1753.9H645.8M626.2 1809.3H645.8M619.35 1780.3H652.65" stroke="#8C84FF" stroke-width="4.6" fill="none"/>
<rect x="619.35" y="1772.6" width="33.3" height="33.6" stroke="#8C84FF" stroke-width="4.6" fill="none"/>
<path d="M692.9 1850.9V1855.3M692.9 1891.5V1922.5M683.1 1850.9H702.7M683.1 1922.5H702.7M676.25 1863.8H709.55" stroke="#4D9DFA" stroke-width="4.6" fill="none"/>
<rect x="676.25" y="1855.3" width="33.3" height="36.2" stroke="#4D9DFA" stroke-width="4.6" fill="none"/>
<path d="M485.5 1702.1V1992.3H731.6" stroke="#000" stroke-width="3.4" fill="none" stroke-linejoin="miter"/>
<path d="M472.7 1703.8H485.5M472.7 1775.92H485.5M472.7 1848.05H485.5M472.7 1920.17H485.5M472.7 1992.3H485.5M607.5 1992.3V2005.1" stroke="#000" stroke-width="3.4" fill="none"/>
<text transform="translate(470.1,1712.3) scale(0.98,1)" font-size="22.3" text-anchor="end" class="b">1.0</text>
<text transform="translate(470.1,1784.42) scale(0.98,1)" font-size="22.3" text-anchor="end" class="b">0.5</text>
<text transform="translate(470.1,1856.55) scale(0.98,1)" font-size="22.3" text-anchor="end" class="b">0.0</text>
<text transform="translate(470.1,1928.67) scale(0.98,1)" font-size="22.3" text-anchor="end" class="b">-0.5</text>
<text transform="translate(470.1,2000.8) scale(0.98,1)" font-size="22.3" text-anchor="end" class="b">-1.0</text>
<text transform="translate(418,1847.55) rotate(-90)" font-size="23.8" text-anchor="middle" class="b">Peak intensity (Normalized)</text>
<text transform="translate(607.5,2027.6)" font-size="22" text-anchor="middle" class="b">Threonine</text>
<line x1="563.6" y1="1720.6" x2="595.4" y2="1720.6" stroke="#000" stroke-width="3.3"/>
<text transform="translate(567.95,1708)" font-size="23.9" text-anchor="start" letter-spacing="-1.45">ns</text>
<line x1="620.5" y1="1720.6" x2="652" y2="1720.6" stroke="#000" stroke-width="3.3"/>
<text transform="translate(630.77,1716.95) scale(0.95,1)" font-size="27.5" text-anchor="start" class="st" letter-spacing="3.93" stroke="#000" stroke-width="1.5">*</text>
<line x1="679.4" y1="1720.6" x2="711.5" y2="1720.6" stroke="#000" stroke-width="3.3"/>
<text transform="translate(683.75,1708)" font-size="23.9" text-anchor="start" letter-spacing="-1.45">ns</text>
</g>
<g>
<line x1="134.27" y1="2288.05" x2="377.2" y2="2288.05" stroke="#000" stroke-width="3.07" stroke-linecap="round" stroke-dasharray="0 8.9"/>
<path d="M164.3 2206.9V2225.1M164.3 2253.3V2260.9M154.27 2206.9H174.33M154.27 2260.9H174.33M147.27 2250H181.33" stroke="#FF0000" stroke-width="4.71" fill="none"/>
<rect x="147.27" y="2225.1" width="34.07" height="28.2" stroke="#FF0000" stroke-width="4.71" fill="none"/>
<path d="M222.1 2222.1V2231.3M222.1 2314.7V2347.2M212.07 2222.1H232.13M212.07 2347.2H232.13M205.07 2257.4H239.13" stroke="#0CBA76" stroke-width="4.71" fill="none"/>
<rect x="205.07" y="2231.3" width="34.07" height="83.4" stroke="#0CBA76" stroke-width="4.71" fill="none"/>
<path d="M280.2 2248.7V2254.9M280.2 2307.1V2336.4M270.17 2248.7H290.23M270.17 2336.4H290.23M263.17 2273.7H297.23" stroke="#8C84FF" stroke-width="4.71" fill="none"/>
<rect x="263.17" y="2254.9" width="34.07" height="52.2" stroke="#8C84FF" stroke-width="4.71" fill="none"/>
<path d="M338 2338.8V2342.4M338 2371.7V2392.6M327.97 2338.8H348.03M327.97 2392.6H348.03M320.97 2358.1H355.03" stroke="#4D9DFA" stroke-width="4.71" fill="none"/>
<rect x="320.97" y="2342.4" width="34.07" height="29.3" stroke="#4D9DFA" stroke-width="4.71" fill="none"/>
<path d="M126.5 2138.86V2435.5H378.2" stroke="#000" stroke-width="3.48" fill="none" stroke-linejoin="miter"/>
<path d="M113.41 2140.6H126.5M113.41 2214.32H126.5M113.41 2288.05H126.5M113.41 2361.78H126.5M113.41 2435.5H126.5M250.6 2435.5V2448.59" stroke="#000" stroke-width="3.48" fill="none"/>
<text transform="translate(110.75,2149.3) scale(0.98,1)" font-size="22.81" text-anchor="end" class="b">1.0</text>
<text transform="translate(110.75,2223.02) scale(0.98,1)" font-size="22.81" text-anchor="end" class="b">0.5</text>
<text transform="translate(110.75,2296.75) scale(0.98,1)" font-size="22.81" text-anchor="end" class="b">0.0</text>
<text transform="translate(110.75,2370.47) scale(0.98,1)" font-size="22.81" text-anchor="end" class="b">-0.5</text>
<text transform="translate(110.75,2444.2) scale(0.98,1)" font-size="22.81" text-anchor="end" class="b">-1.0</text>
<text transform="translate(57.4,2287.54) rotate(-90)" font-size="24.35" text-anchor="middle" class="b">Peak intensity (Normalized)</text>
<text transform="translate(249.8,2470.5)" font-size="22.51" text-anchor="middle" class="b">Glucosamine 6-phosphate</text>
<line x1="205.6" y1="2158" x2="238.8" y2="2158" stroke="#000" stroke-width="3.38"/>
<text transform="translate(209.35,2142.9)" font-size="26.04" text-anchor="start" letter-spacing="-1.58">ns</text>
<line x1="263.6" y1="2158" x2="296.4" y2="2158" stroke="#000" stroke-width="3.38"/>
<text transform="translate(267.45,2142.9)" font-size="26.04" text-anchor="start" letter-spacing="-1.58">ns</text>
<line x1="324.2" y1="2158" x2="357" y2="2158" stroke="#000" stroke-width="3.38"/>
<text transform="translate(306.13,2151) scale(0.95,1)" font-size="29.96" text-anchor="start" class="st" letter-spacing="4.29" stroke="#000" stroke-width="1.5">****</text>
</g>
<g>
<line x1="490.31" y1="2218.55" x2="721.5" y2="2218.55" stroke="#000" stroke-width="2.92" stroke-linecap="round" stroke-dasharray="0 8.48"/>
<path d="M518.3 2153.1V2171.5M518.3 2194.4V2196.8M508.74 2153.1H527.85M508.74 2196.8H527.85M502.07 2192.3H534.53" stroke="#FF0000" stroke-width="4.48" fill="none"/>
<rect x="502.07" y="2171.5" width="32.47" height="22.9" stroke="#FF0000" stroke-width="4.48" fill="none"/>
<path d="M573.9 2175.4V2184.3M573.9 2236.3V2277.1M564.35 2175.4H583.45M564.35 2277.1H583.45M557.67 2201.8H590.13" stroke="#0CBA76" stroke-width="4.48" fill="none"/>
<rect x="557.67" y="2184.3" width="32.47" height="52" stroke="#0CBA76" stroke-width="4.48" fill="none"/>
<path d="M629.2 2169.3V2174M629.2 2249.4V2294.9M619.65 2169.3H638.75M619.65 2294.9H638.75M612.97 2211.6H645.43" stroke="#8C84FF" stroke-width="4.48" fill="none"/>
<rect x="612.97" y="2174" width="32.47" height="75.4" stroke="#8C84FF" stroke-width="4.48" fill="none"/>
<path d="M684.8 2199.8V2222M684.8 2296.4V2355M675.25 2199.8H694.35M675.25 2355H694.35M668.57 2260.1H701.03" stroke="#4D9DFA" stroke-width="4.48" fill="none"/>
<rect x="668.57" y="2222" width="32.47" height="74.4" stroke="#4D9DFA" stroke-width="4.48" fill="none"/>
<path d="M482.9 2146.64V2429.3H722.5" stroke="#000" stroke-width="3.31" fill="none" stroke-linejoin="miter"/>
<path d="M470.42 2148.3H482.9M470.42 2218.55H482.9M470.42 2288.8H482.9M470.42 2359.05H482.9M470.42 2429.3H482.9M600.6 2429.3V2441.78" stroke="#000" stroke-width="3.31" fill="none"/>
<text transform="translate(467.88,2156.59) scale(0.98,1)" font-size="21.74" text-anchor="end" class="b">0.5</text>
<text transform="translate(467.88,2226.84) scale(0.98,1)" font-size="21.74" text-anchor="end" class="b">0.0</text>
<text transform="translate(467.88,2297.09) scale(0.98,1)" font-size="21.74" text-anchor="end" class="b">-0.5</text>
<text transform="translate(467.88,2367.34) scale(0.98,1)" font-size="21.74" text-anchor="end" class="b">-1.0</text>
<text transform="translate(467.88,2437.59) scale(0.98,1)" font-size="21.74" text-anchor="end" class="b">-1.5</text>
<text transform="translate(416.3,2288.31) rotate(-90)" font-size="23.21" text-anchor="middle" class="b">Peak intensity (Normalized)</text>
<text transform="translate(600.6,2464)" font-size="21.45" text-anchor="middle" class="b">Acetylglucosamine</text>
<line x1="558.4" y1="2153.7" x2="589.6" y2="2153.7" stroke="#000" stroke-width="3.22"/>
<text transform="translate(562.55,2141.41)" font-size="23.3" text-anchor="start" letter-spacing="-1.41">ns</text>
<line x1="613.4" y1="2153.7" x2="644.6" y2="2153.7" stroke="#000" stroke-width="3.22"/>
<text transform="translate(617.85,2141.41)" font-size="23.3" text-anchor="start" letter-spacing="-1.41">ns</text>
<line x1="669.9" y1="2153.7" x2="701.1" y2="2153.7" stroke="#000" stroke-width="3.22"/>
<text transform="translate(679.93,2150.14) scale(0.95,1)" font-size="26.81" text-anchor="start" class="st" letter-spacing="3.84" stroke="#000" stroke-width="1.5">*</text>
</g>
<g>
<line x1="934.1" y1="2254.62" x2="1172.3" y2="2254.62" stroke="#000" stroke-width="3" stroke-linecap="round" stroke-dasharray="0 8.7"/>
<path d="M963.3 2203.2V2207.2M963.3 2219V2221.8M953.5 2203.2H973.1M953.5 2221.8H973.1M946.65 2208.6H979.95" stroke="#FF0000" stroke-width="4.6" fill="none"/>
<rect x="946.65" y="2207.2" width="33.3" height="11.8" stroke="#FF0000" stroke-width="4.6" fill="none"/>
<path d="M1020.2 2184.9V2189.4M1020.2 2211.1V2214.5M1010.4 2184.9H1030M1010.4 2214.5H1030M1003.55 2207.2H1036.85" stroke="#0CBA76" stroke-width="4.6" fill="none"/>
<rect x="1003.55" y="2189.4" width="33.3" height="21.7" stroke="#0CBA76" stroke-width="4.6" fill="none"/>
<path d="M1076.4 2213.3V2219.9M1076.4 2239.1V2248.4M1066.6 2213.3H1086.2M1066.6 2248.4H1086.2M1059.75 2232.7H1093.05" stroke="#8C84FF" stroke-width="4.6" fill="none"/>
<rect x="1059.75" y="2219.9" width="33.3" height="19.2" stroke="#8C84FF" stroke-width="4.6" fill="none"/>
<path d="M1133.1 2348.3V2368.7M1133.1 2381.7V2393.1M1123.3 2348.3H1142.9M1123.3 2393.1H1142.9M1116.45 2376.3H1149.75" stroke="#4D9DFA" stroke-width="4.6" fill="none"/>
<rect x="1116.45" y="2368.7" width="33.3" height="13" stroke="#4D9DFA" stroke-width="4.6" fill="none"/>
<path d="M926.5 2137.8V2427.3H1173.3" stroke="#000" stroke-width="3.4" fill="none" stroke-linejoin="miter"/>
<path d="M913.7 2139.5H926.5M913.7 2197.06H926.5M913.7 2254.62H926.5M913.7 2312.18H926.5M913.7 2369.74H926.5M913.7 2427.3H926.5M1047.6 2427.3V2440.1" stroke="#000" stroke-width="3.4" fill="none"/>
<text transform="translate(911.1,2148) scale(0.98,1)" font-size="22.3" text-anchor="end" class="b">1.0</text>
<text transform="translate(911.1,2205.56) scale(0.98,1)" font-size="22.3" text-anchor="end" class="b">0.5</text>
<text transform="translate(911.1,2263.12) scale(0.98,1)" font-size="22.3" text-anchor="end" class="b">0.0</text>
<text transform="translate(911.1,2320.68) scale(0.98,1)" font-size="22.3" text-anchor="end" class="b">-0.5</text>
<text transform="translate(911.1,2378.24) scale(0.98,1)" font-size="22.3" text-anchor="end" class="b">-1.0</text>
<text transform="translate(911.1,2435.8) scale(0.98,1)" font-size="22.3" text-anchor="end" class="b">-1.5</text>
<text transform="translate(858.6,2282.9) rotate(-90)" font-size="23.8" text-anchor="middle" class="b">Peak intensity (Normalized)</text>
<text transform="translate(1047.6,2462.3)" font-size="22" text-anchor="middle" class="b">Proline</text>
<line x1="1004.2" y1="2155.8" x2="1036.2" y2="2155.8" stroke="#000" stroke-width="3.3"/>
<text transform="translate(1008.85,2143.2)" font-size="23.9" text-anchor="start" letter-spacing="-1.45">ns</text>
<line x1="1060.6" y1="2155.8" x2="1092.4" y2="2155.8" stroke="#000" stroke-width="3.3"/>
<text transform="translate(1065.25,2143.2)" font-size="23.9" text-anchor="start" letter-spacing="-1.45">ns</text>
<line x1="1119.6" y1="2155.8" x2="1151.6" y2="2155.8" stroke="#000" stroke-width="3.3"/>
<text transform="translate(1113.37,2152.15) scale(0.95,1)" font-size="27.5" text-anchor="start" class="st" letter-spacing="3.93" stroke="#000" stroke-width="1.5">***</text>
</g>
<g>
<line x1="1263.3" y1="2283.65" x2="1500.1" y2="2283.65" stroke="#000" stroke-width="3" stroke-linecap="round" stroke-dasharray="0 8.7"/>
<path d="M1292.3 2273.1V2287.6M1292.3 2323.9V2330.9M1282.5 2273.1H1302.1M1282.5 2330.9H1302.1M1275.65 2308H1308.95" stroke="#FF0000" stroke-width="4.6" fill="none"/>
<rect x="1275.65" y="2287.6" width="33.3" height="36.3" stroke="#FF0000" stroke-width="4.6" fill="none"/>
<path d="M1348.9 2205.2V2208.6M1348.9 2273.6V2282.8M1339.1 2205.2H1358.7M1339.1 2282.8H1358.7M1332.25 2242.3H1365.55" stroke="#0CBA76" stroke-width="4.6" fill="none"/>
<rect x="1332.25" y="2208.6" width="33.3" height="65" stroke="#0CBA76" stroke-width="4.6" fill="none"/>
<path d="M1405.4 2206.6V2213M1405.4 2250.7V2255.5M1395.6 2206.6H1415.2M1395.6 2255.5H1415.2M1388.75 2223.4H1422.05" stroke="#8C84FF" stroke-width="4.6" fill="none"/>
<rect x="1388.75" y="2213" width="33.3" height="37.7" stroke="#8C84FF" stroke-width="4.6" fill="none"/>
<path d="M1462 2327.5V2330M1462 2390.4V2392.9M1452.2 2327.5H1471.8M1452.2 2392.9H1471.8M1445.35 2356H1478.65" stroke="#4D9DFA" stroke-width="4.6" fill="none"/>
<rect x="1445.35" y="2330" width="33.3" height="60.4" stroke="#4D9DFA" stroke-width="4.6" fill="none"/>
<path d="M1255.7 2138.4V2427.2H1501.1" stroke="#000" stroke-width="3.4" fill="none" stroke-linejoin="miter"/>
<path d="M1242.9 2140.1H1255.7M1242.9 2211.88H1255.7M1242.9 2283.65H1255.7M1242.9 2355.42H1255.7M1242.9 2427.2H1255.7M1377.4 2427.2V2440" stroke="#000" stroke-width="3.4" fill="none"/>
<text transform="translate(1240.3,2148.6) scale(0.98,1)" font-size="22.3" text-anchor="end" class="b">1.0</text>
<text transform="translate(1240.3,2220.38) scale(0.98,1)" font-size="22.3" text-anchor="end" class="b">0.5</text>
<text transform="translate(1240.3,2292.15) scale(0.98,1)" font-size="22.3" text-anchor="end" class="b">0.0</text>
<text transform="translate(1240.3,2363.92) scale(0.98,1)" font-size="22.3" text-anchor="end" class="b">-0.5</text>
<text transform="translate(1240.3,2435.7) scale(0.98,1)" font-size="22.3" text-anchor="end" class="b">-1.0</text>
<text transform="translate(1187.4,2283.15) rotate(-90)" font-size="23.8" text-anchor="middle" class="b">Peak intensity (Normalized)</text>
<text transform="translate(1377.4,2462.6)" font-size="22" text-anchor="middle" class="b">Hydroxyproline</text>
<line x1="1332.9" y1="2156.7" x2="1365" y2="2156.7" stroke="#000" stroke-width="3.3"/>
<text transform="translate(1334.57,2153.05) scale(0.95,1)" font-size="27.5" text-anchor="start" class="st" letter-spacing="3.93" stroke="#000" stroke-width="1.5">**</text>
<line x1="1389.6" y1="2156.7" x2="1421.5" y2="2156.7" stroke="#000" stroke-width="3.3"/>
<text transform="translate(1382.87,2153.05) scale(0.95,1)" font-size="27.5" text-anchor="start" class="st" letter-spacing="3.93" stroke="#000" stroke-width="1.5">***</text>
<line x1="1448.3" y1="2156.7" x2="1480.7" y2="2156.7" stroke="#000" stroke-width="3.3"/>
<text transform="translate(1459.67,2153.05) scale(0.95,1)" font-size="27.5" text-anchor="start" class="st" letter-spacing="3.93" stroke="#000" stroke-width="1.5">*</text>
</g>
<g>
<rect x="1498" y="82.1" width="24.7" height="11.4" stroke="#FF0000" stroke-width="4.4" fill="none"/>
<text transform="translate(1540.07,97.25)" font-size="24.12" text-anchor="start" letter-spacing="-1.51">P01</text>
<rect x="1498" y="121.2" width="24.7" height="11.4" stroke="#0CBA76" stroke-width="4.4" fill="none"/>
<text transform="translate(1540.07,136.35)" font-size="24.12" text-anchor="start" letter-spacing="-1.51">P03</text>
<rect x="1498" y="160.3" width="24.7" height="11.4" stroke="#8C84FF" stroke-width="4.4" fill="none"/>
<text transform="translate(1540.07,175.45)" font-size="24.12" text-anchor="start" letter-spacing="-1.51">P07</text>
<rect x="1498" y="199.4" width="24.7" height="11.4" stroke="#4D9DFA" stroke-width="4.4" fill="none"/>
<text transform="translate(1540.07,214.55)" font-size="24.12" text-anchor="start" letter-spacing="-1.51">P28</text>
</g>
<g>
<rect x="377.2" y="889.3" width="25.3" height="11.4" stroke="#FF0000" stroke-width="4.4" fill="none"/>
<text transform="translate(420.82,904.68)" font-size="24.72" text-anchor="start" letter-spacing="-1.54">P1</text>
<rect x="377.2" y="928.3" width="25.3" height="11.4" stroke="#0CBA76" stroke-width="4.4" fill="none"/>
<text transform="translate(420.82,943.68)" font-size="24.72" text-anchor="start" letter-spacing="-1.54">P3</text>
<rect x="377.2" y="967.3" width="25.3" height="11.4" stroke="#8C84FF" stroke-width="4.4" fill="none"/>
<text transform="translate(420.82,982.68)" font-size="24.72" text-anchor="start" letter-spacing="-1.54">P7</text>
<rect x="377.2" y="1006.3" width="25.3" height="11.4" stroke="#4D9DFA" stroke-width="4.4" fill="none"/>
<text transform="translate(420.82,1021.68)" font-size="24.72" text-anchor="start" letter-spacing="-1.54">P28</text>
</g>
<g>
<rect x="1509.9" y="1310.4" width="25.7" height="11.4" stroke="#FF0000" stroke-width="4.4" fill="none"/>
<text transform="translate(1553.8,1325.88)" font-size="24.96" text-anchor="start" letter-spacing="-1.56">P01</text>
<rect x="1509.9" y="1349.7" width="25.7" height="11.4" stroke="#0CBA76" stroke-width="4.4" fill="none"/>
<text transform="translate(1553.8,1365.18)" font-size="24.96" text-anchor="start" letter-spacing="-1.56">P03</text>
<rect x="1509.9" y="1389" width="25.7" height="11.4" stroke="#8C84FF" stroke-width="4.4" fill="none"/>
<text transform="translate(1553.8,1404.48)" font-size="24.96" text-anchor="start" letter-spacing="-1.56">P07</text>
<rect x="1509.9" y="1428.3" width="25.7" height="11.4" stroke="#4D9DFA" stroke-width="4.4" fill="none"/>
<text transform="translate(1553.8,1443.78)" font-size="24.96" text-anchor="start" letter-spacing="-1.56">P28</text>
</g>
<g>
<rect x="744.1" y="2161.9" width="25.6" height="11.4" stroke="#FF0000" stroke-width="4.4" fill="none"/>
<text transform="translate(788.84,2177.19)" font-size="24.48" text-anchor="start" letter-spacing="-1.53">P1</text>
<rect x="744.1" y="2200.1" width="25.6" height="11.4" stroke="#0CBA76" stroke-width="4.4" fill="none"/>
<text transform="translate(788.84,2215.39)" font-size="24.48" text-anchor="start" letter-spacing="-1.53">P3</text>
<rect x="744.1" y="2238.3" width="25.6" height="11.4" stroke="#8C84FF" stroke-width="4.4" fill="none"/>
<text transform="translate(788.84,2253.59)" font-size="24.48" text-anchor="start" letter-spacing="-1.53">P7</text>
<rect x="744.1" y="2276.5" width="25.6" height="11.4" stroke="#4D9DFA" stroke-width="4.4" fill="none"/>
<text transform="translate(788.84,2291.79)" font-size="24.48" text-anchor="start" letter-spacing="-1.53">P28</text>
</g>
<g>
<rect x="1520.2" y="2159.3" width="26.8" height="11.4" stroke="#FF0000" stroke-width="4.4" fill="none"/>
<text transform="translate(1565.95,2175.06)" font-size="25.68" text-anchor="start" letter-spacing="-1.6">P1</text>
<rect x="1520.2" y="2198.5" width="26.8" height="11.4" stroke="#0CBA76" stroke-width="4.4" fill="none"/>
<text transform="translate(1565.95,2214.26)" font-size="25.68" text-anchor="start" letter-spacing="-1.6">P3</text>
<rect x="1520.2" y="2237.7" width="26.8" height="11.4" stroke="#8C84FF" stroke-width="4.4" fill="none"/>
<text transform="translate(1565.95,2253.46)" font-size="25.68" text-anchor="start" letter-spacing="-1.6">P7</text>
<rect x="1520.2" y="2276.9" width="26.8" height="11.4" stroke="#4D9DFA" stroke-width="4.4" fill="none"/>
<text transform="translate(1565.95,2292.66)" font-size="25.68" text-anchor="start" letter-spacing="-1.6">P28</text>
</g>
<text transform="translate(8.9,29.7)" font-size="34.6" text-anchor="start" class="b">A</text>
<text transform="translate(7.5,828.2)" font-size="34.6" text-anchor="start" class="b">B</text>
<text transform="translate(8.2,1248.3)" font-size="34.6" text-anchor="start" class="b">C</text>
<text transform="translate(7.7,2085.9)" font-size="34.6" text-anchor="start" class="b">D</text>
<text transform="translate(815.7,2085.9)" font-size="34.6" text-anchor="start" class="b">E</text>
</svg>
</body>
</html>
